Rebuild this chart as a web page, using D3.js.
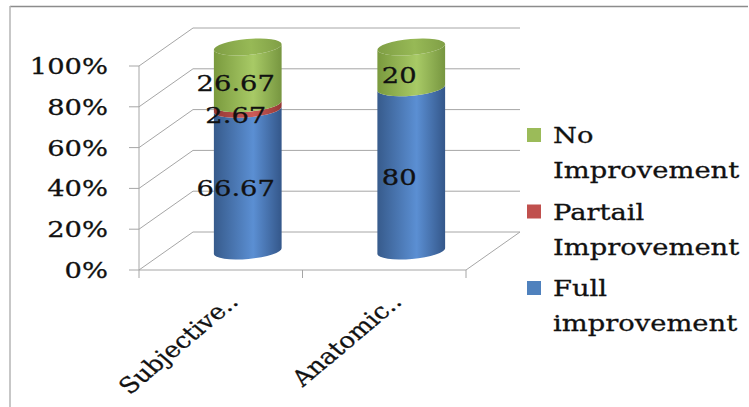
<!DOCTYPE html>
<html>
<head>
<meta charset="utf-8">
<script src="https://cdn.jsdelivr.net/npm/d3@7"></script>
<style>
  html, body { margin: 0; padding: 0; background: #fff; }
  svg { display: block; }
  text { font-family: "DejaVu Serif", serif; fill: #111; stroke: #111; stroke-width: 0.3; }
</style>
</head>
<body>
<div id="chart"></div>
<script>
// data
const categories = ["Subjective..", "Anatomic.."];
const seriesKeys = ["full", "partial", "none"];
const seriesNames = ["Full improvement", "Partail Improvement", "No Improvement"];
const fullValues = [66.67, 80];
const partialValues = [2.67, 0];
const noneValues = [26.67, 20];
const yTicks = [0, 0.2, 0.4, 0.6, 0.8, 1];

const W = 749, H = 407;
const svg = d3.select("#chart").append("svg").attr("width", W).attr("height", H);

const rows = categories.map((c, i) => ({
  cat: c, full: fullValues[i], partial: partialValues[i], none: noneValues[i]
}));
const stacked = d3.stack().keys(seriesKeys).offset(d3.stackOffsetExpand)(rows);

// 3d frame: front plane and depth offset
const depthX = 54, depthY = -38;
const x = d3.scaleBand().domain(categories).range([139, 466]).padding(0);
const y = d3.scaleLinear().domain([0, 1]).range([270, 66]);
const stretch = 1.19; // reference text is wider than DejaVu

const colors = {
  full: ["#375b8c", "#5b8fd3", "#34578a"],
  partial: ["#963936", "#cc5a57", "#943835"],
  none: ["#7a9a3e", "#a8ca66", "#779640"]
};
const legendColors = { full: "#4f81bd", partial: "#c0504d", none: "#9bbb59" };

const defs = svg.append("defs");
seriesKeys.forEach(k => {
  const g = defs.append("linearGradient").attr("id", "grad-" + k)
    .attr("x1", 0).attr("x2", 1).attr("y1", 0).attr("y2", 0);
  g.append("stop").attr("offset", "0%").attr("stop-color", colors[k][0]);
  g.append("stop").attr("offset", "58%").attr("stop-color", colors[k][1]);
  g.append("stop").attr("offset", "100%").attr("stop-color", colors[k][2]);
});
const cap = defs.append("linearGradient").attr("id", "grad-cap")
  .attr("x1", 0).attr("x2", 1).attr("y1", 0).attr("y2", 0);
cap.append("stop").attr("offset", "0%").attr("stop-color", "#7f9e44");
cap.append("stop").attr("offset", "55%").attr("stop-color", "#97b956");
cap.append("stop").attr("offset", "100%").attr("stop-color", "#809f46");

// outer border (top and left only visible)
svg.append("line").attr("x1", 10).attr("x2", 748).attr("y1", 6.5).attr("y2", 6.5)
  .attr("stroke", "#8c8c8c").attr("stroke-width", 1.5);
svg.append("line").attr("x1", 10).attr("x2", 10).attr("y1", 6).attr("y2", H)
  .attr("stroke", "#b4b4b4").attr("stroke-width", 1.5);

const grid = svg.append("g").attr("stroke", "#a6a6a6").attr("stroke-width", 1).attr("fill", "none");
const x0 = x.range()[0], x1 = x.range()[1];

// side wall + back wall gridlines
yTicks.forEach(t => {
  grid.append("polyline").attr("points", [
    [x0, y(t)], [x0 + depthX, y(t) + depthY], [x1 + depthX, y(t) + depthY]
  ].map(p => p.join(",")).join(" "));
});
// front vertical axis and floor
grid.append("line").attr("x1", x0).attr("x2", x0).attr("y1", y(1)).attr("y2", y(0));
grid.append("polyline").attr("points", [
  [x0, y(0)], [x1, y(0)], [x1 + depthX, y(0) + depthY]
].map(p => p.join(",")).join(" "));
// y ticks
yTicks.forEach(t => {
  grid.append("line").attr("x1", x0 - 10).attr("x2", x0).attr("y1", y(t)).attr("y2", y(t));
});
// category ticks
[x0].concat(categories.map(c => x(c) + x.bandwidth())).forEach(px => {
  grid.append("line").attr("x1", px).attr("x2", px).attr("y1", y(0)).attr("y2", y(0) + 8);
});

function stretchedText(g, px, py, str, anchor, extra) {
  return g.append("text")
    .attr("transform", `translate(${px},${py}) scale(${stretch},1)` + (extra || ""))
    .attr("text-anchor", anchor)
    .text(str);
}

// y tick labels
const yLab = svg.append("g").style("font-size", "23px");
yTicks.forEach(t => {
  stretchedText(yLab, 108, y(t) + 8, d3.format(".0%")(t), "end");
});

// cylinders
const rx = 34, ry = 8, tilt = -5;
const th = tilt * Math.PI / 180;
function pt(cx, cy, a) {
  return [cx + rx * Math.cos(a) * Math.cos(th) - ry * Math.sin(a) * Math.sin(th),
          cy + rx * Math.cos(a) * Math.sin(th) + ry * Math.sin(a) * Math.cos(th)];
}
function sidePath(cx, yb, yt) {
  const L = pt(cx, yt, Math.PI), R = pt(cx, yt, 0);
  const Lb = pt(cx, yb, Math.PI), Rb = pt(cx, yb, 0);
  return `M${L}L${Lb}A${rx},${ry} ${tilt} 0 0 ${Rb}L${R}A${rx},${ry} ${tilt} 0 1 ${L}Z`;
}

const bars = svg.append("g");
const labels = svg.append("g").style("font-size", "23px");
categories.forEach((c, i) => {
  const cx = x(c) + x.bandwidth() / 2 + depthX / 2;
  let topY = null;
  stacked.forEach(s => {
    const d = s[i];
    if (d[1] - d[0] <= 0) return;
    const yb = y(d[0]) + depthY / 2, yt = y(d[1]) + depthY / 2;
    bars.append("path").attr("d", sidePath(cx, yb, yt))
      .attr("fill", `url(#grad-${s.key})`);
    topY = yt;
  });
  bars.append("ellipse").attr("cx", cx).attr("cy", topY).attr("rx", rx).attr("ry", ry)
    .attr("transform", `rotate(${tilt},${cx},${topY})`)
    .attr("fill", "url(#grad-cap)");
  // data labels, a bit toward the front plane
  stacked.forEach(s => {
    const d = s[i];
    const v = rows[i][s.key];
    if (!v) return;
    const ym = y((d[0] + d[1]) / 2) + depthY / 2 + 8;
    stretchedText(labels, cx - 12, ym + 8, String(v), "middle");
  });
});

// category labels, rotated then stretched like the rest of the picture
const xLab = svg.append("g").style("font-size", "22px");
categories.forEach(c => {
  stretchedText(xLab, x(c) + x.bandwidth() / 2 + 19, 303, c, "end", " rotate(-45)");
});

// legend
const legend = svg.append("g").style("font-size", "23px");
const legendOrder = ["none", "partial", "full"];
legendOrder.forEach((k, j) => {
  const ly = 128 + j * 76.5;
  legend.append("rect").attr("x", 527).attr("y", ly).attr("width", 14).attr("height", 14)
    .attr("fill", legendColors[k]);
  const words = seriesNames[seriesKeys.indexOf(k)].split(" ");
  words.forEach((w, li) => {
    stretchedText(legend, 553, ly + 15 + li * 35, w, "start");
  });
});
</script>
</body>
</html>
